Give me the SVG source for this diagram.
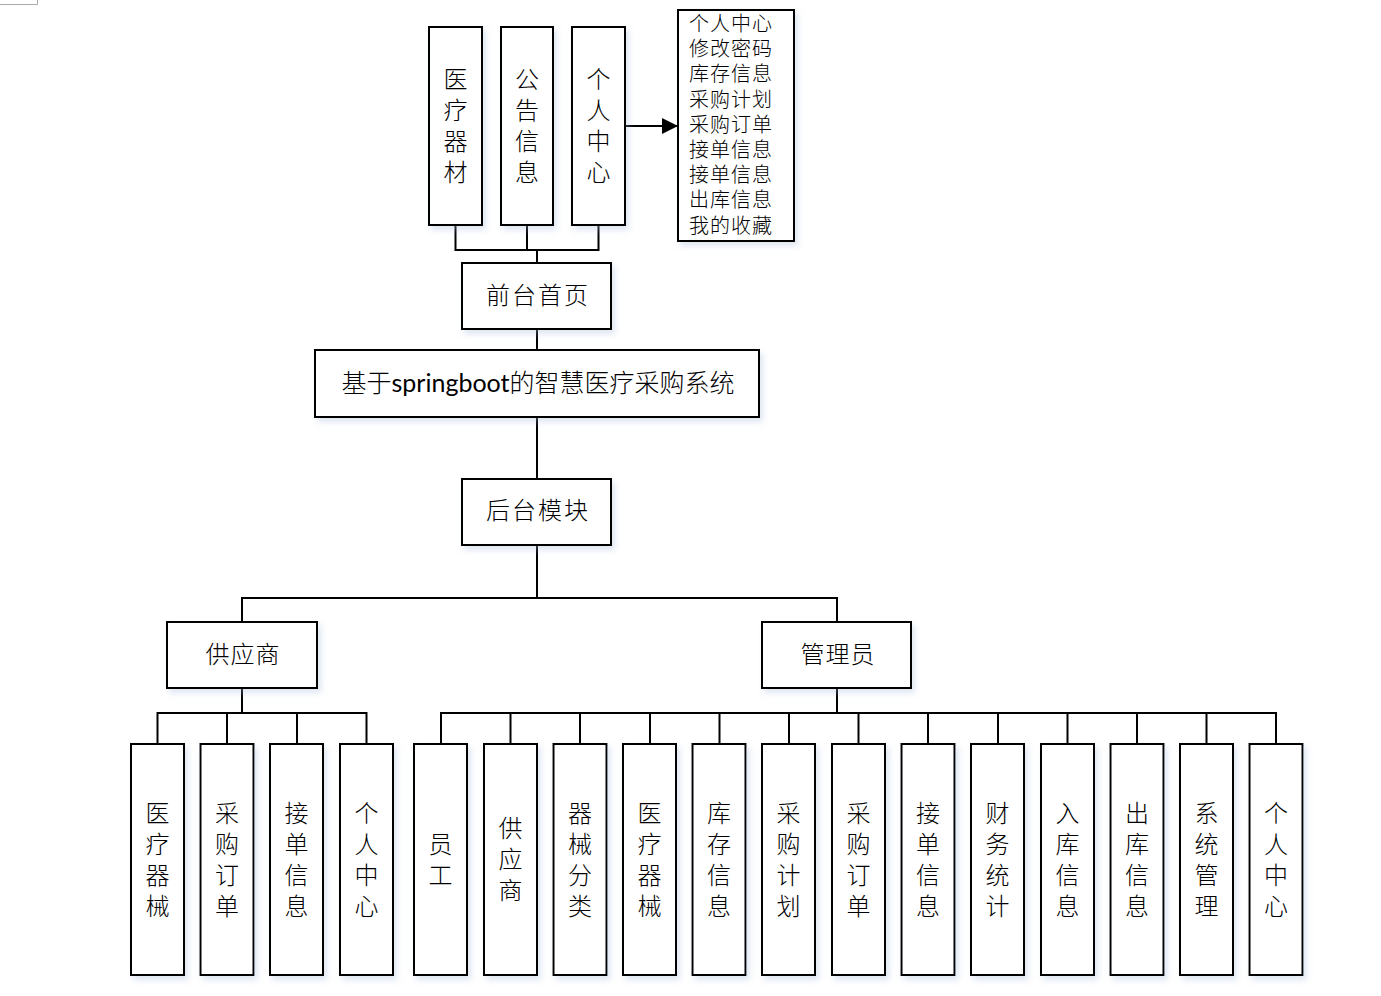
<svg xmlns="http://www.w3.org/2000/svg" width="1381" height="996" viewBox="0 0 1381 996">
<defs>
<filter id="sh" x="-20%" y="-20%" width="150%" height="150%">
<feDropShadow dx="3" dy="4" stdDeviation="3" flood-color="#9fb6d8" flood-opacity="0.35"/>
</filter>
<marker id="arr" markerWidth="16" markerHeight="16" refX="15" refY="8" orient="auto" markerUnits="userSpaceOnUse">
<path d="M0,0 L16,8 L0,16 Z" fill="#000"/>
</marker>
</defs>
<style>
.box{fill:#fff;stroke:#000;stroke-width:2;filter:url(#sh)}
.ln{fill:none;stroke:#000;stroke-width:2}
text{font-family:"Lato","Noto Sans CJK SC",sans-serif;font-size:24px;font-weight:300;fill:#000;text-anchor:middle;dominant-baseline:central;transform:translate(0px,-2px)}
.list{font-size:20px;text-anchor:start;letter-spacing:1px}
.sys{font-size:25px}
.lat{font-weight:400}
</style>
<rect width="1381" height="996" fill="#fff"/>
<path d="M0,4.5 H37.5 V0" fill="none" stroke="#aaa" stroke-width="1"/>

<g id="connectors">
<path class="ln" d="M455.5,225 V250 H598.5 V225 M527,225 V250 M537,250 V263"/>
<path class="ln" d="M625,126 H677" marker-end="url(#arr)"/>
<path class="ln" d="M537,329 V350 M537,417 V478 M537,545 V598 M242,622 V598 H837 V622"/>
<path class="ln" d="M242,689 V713 M157.5,744 V713 H366.5 V744 M227,713 V744 M297,713 V744"/>
<path class="ln" d="M837,689 V713 M441,744 V713 H1276 V744 M510.5,713 V744 M580,713 V744 M650,713 V744 M719.5,713 V744 M789,713 V744 M858.5,713 V744 M928,713 V744 M998,713 V744 M1067.5,713 V744 M1137,713 V744 M1206.5,713 V744"/>
</g>

<g id="n-ylqc"><rect class="box" x="429" y="27" width="53" height="198"/>
<text><tspan x="455.5" y="80">医</tspan><tspan x="455.5" y="111">疗</tspan><tspan x="455.5" y="142">器</tspan><tspan x="455.5" y="173">材</tspan></text></g>
<g id="n-ggxx"><rect class="box" x="501" y="27" width="52" height="198"/>
<text><tspan x="527" y="80">公</tspan><tspan x="527" y="111">告</tspan><tspan x="527" y="142">信</tspan><tspan x="527" y="173">息</tspan></text></g>
<g id="n-grzx-top"><rect class="box" x="572" y="27" width="53" height="198"/>
<text><tspan x="598.5" y="80">个</tspan><tspan x="598.5" y="111">人</tspan><tspan x="598.5" y="142">中</tspan><tspan x="598.5" y="173">心</tspan></text></g>
<g id="n-list"><rect class="box" x="678" y="10" width="116" height="231"/>
<text class="list"><tspan x="689" y="25">个人中心</tspan><tspan x="689" y="50.2">修改密码</tspan><tspan x="689" y="75.4">库存信息</tspan><tspan x="689" y="100.6">采购计划</tspan><tspan x="689" y="125.8">采购订单</tspan><tspan x="689" y="151">接单信息</tspan><tspan x="689" y="176.2">接单信息</tspan><tspan x="689" y="201.4">出库信息</tspan><tspan x="689" y="226.6">我的收藏</tspan></text></g>

<g id="n-qtsy"><rect class="box" x="462" y="263" width="149" height="66"/>
<text x="538" y="296" letter-spacing="2">前台首页</text></g>
<g id="n-system"><rect class="box" x="315" y="350" width="444" height="67"/>
<text class="sys" x="538" y="384">基于<tspan class="lat">springboot</tspan>的智慧医疗采购系统</text></g>
<g id="n-htmk"><rect class="box" x="462" y="479" width="149" height="66"/>
<text x="538" y="511" letter-spacing="2">后台模块</text></g>
<g id="n-gys"><rect class="box" x="167" y="622" width="150" height="66"/>
<text x="243" y="655" letter-spacing="1">供应商</text></g>
<g id="n-gly"><rect class="box" x="762" y="622" width="149" height="66"/>
<text x="838" y="655" letter-spacing="1">管理员</text></g>

<g id="s1"><rect class="box" x="131" y="744" width="53" height="231"/>
<text><tspan x="157.5" y="813.5">医</tspan><tspan x="157.5" y="844.5">疗</tspan><tspan x="157.5" y="875.5">器</tspan><tspan x="157.5" y="906.5">械</tspan></text></g>
<g id="s2"><rect class="box" x="200.5" y="744" width="53" height="231"/>
<text><tspan x="227" y="813.5">采</tspan><tspan x="227" y="844.5">购</tspan><tspan x="227" y="875.5">订</tspan><tspan x="227" y="906.5">单</tspan></text></g>
<g id="s3"><rect class="box" x="270" y="744" width="53" height="231"/>
<text><tspan x="296.5" y="813.5">接</tspan><tspan x="296.5" y="844.5">单</tspan><tspan x="296.5" y="875.5">信</tspan><tspan x="296.5" y="906.5">息</tspan></text></g>
<g id="s4"><rect class="box" x="340" y="744" width="53" height="231"/>
<text><tspan x="366.5" y="813.5">个</tspan><tspan x="366.5" y="844.5">人</tspan><tspan x="366.5" y="875.5">中</tspan><tspan x="366.5" y="906.5">心</tspan></text></g>

<g id="a1"><rect class="box" x="414" y="744" width="53" height="231"/>
<text><tspan x="440.5" y="844.5">员</tspan><tspan x="440.5" y="875.5">工</tspan></text></g>
<g id="a2"><rect class="box" x="484" y="744" width="53" height="231"/>
<text><tspan x="510.5" y="829">供</tspan><tspan x="510.5" y="860">应</tspan><tspan x="510.5" y="891">商</tspan></text></g>
<g id="a3"><rect class="box" x="553.5" y="744" width="53" height="231"/>
<text><tspan x="580" y="813.5">器</tspan><tspan x="580" y="844.5">械</tspan><tspan x="580" y="875.5">分</tspan><tspan x="580" y="906.5">类</tspan></text></g>
<g id="a4"><rect class="box" x="623" y="744" width="53" height="231"/>
<text><tspan x="649.5" y="813.5">医</tspan><tspan x="649.5" y="844.5">疗</tspan><tspan x="649.5" y="875.5">器</tspan><tspan x="649.5" y="906.5">械</tspan></text></g>
<g id="a5"><rect class="box" x="692.5" y="744" width="53" height="231"/>
<text><tspan x="719" y="813.5">库</tspan><tspan x="719" y="844.5">存</tspan><tspan x="719" y="875.5">信</tspan><tspan x="719" y="906.5">息</tspan></text></g>
<g id="a6"><rect class="box" x="762" y="744" width="53" height="231"/>
<text><tspan x="788.5" y="813.5">采</tspan><tspan x="788.5" y="844.5">购</tspan><tspan x="788.5" y="875.5">计</tspan><tspan x="788.5" y="906.5">划</tspan></text></g>
<g id="a7"><rect class="box" x="832" y="744" width="53" height="231"/>
<text><tspan x="858.5" y="813.5">采</tspan><tspan x="858.5" y="844.5">购</tspan><tspan x="858.5" y="875.5">订</tspan><tspan x="858.5" y="906.5">单</tspan></text></g>
<g id="a8"><rect class="box" x="901.5" y="744" width="53" height="231"/>
<text><tspan x="928" y="813.5">接</tspan><tspan x="928" y="844.5">单</tspan><tspan x="928" y="875.5">信</tspan><tspan x="928" y="906.5">息</tspan></text></g>
<g id="a9"><rect class="box" x="971" y="744" width="53" height="231"/>
<text><tspan x="997.5" y="813.5">财</tspan><tspan x="997.5" y="844.5">务</tspan><tspan x="997.5" y="875.5">统</tspan><tspan x="997.5" y="906.5">计</tspan></text></g>
<g id="a10"><rect class="box" x="1041" y="744" width="53" height="231"/>
<text><tspan x="1067.5" y="813.5">入</tspan><tspan x="1067.5" y="844.5">库</tspan><tspan x="1067.5" y="875.5">信</tspan><tspan x="1067.5" y="906.5">息</tspan></text></g>
<g id="a11"><rect class="box" x="1110.5" y="744" width="53" height="231"/>
<text><tspan x="1137" y="813.5">出</tspan><tspan x="1137" y="844.5">库</tspan><tspan x="1137" y="875.5">信</tspan><tspan x="1137" y="906.5">息</tspan></text></g>
<g id="a12"><rect class="box" x="1180" y="744" width="53" height="231"/>
<text><tspan x="1206.5" y="813.5">系</tspan><tspan x="1206.5" y="844.5">统</tspan><tspan x="1206.5" y="875.5">管</tspan><tspan x="1206.5" y="906.5">理</tspan></text></g>
<g id="a13"><rect class="box" x="1249.5" y="744" width="53" height="231"/>
<text><tspan x="1276" y="813.5">个</tspan><tspan x="1276" y="844.5">人</tspan><tspan x="1276" y="875.5">中</tspan><tspan x="1276" y="906.5">心</tspan></text></g>
</svg>
